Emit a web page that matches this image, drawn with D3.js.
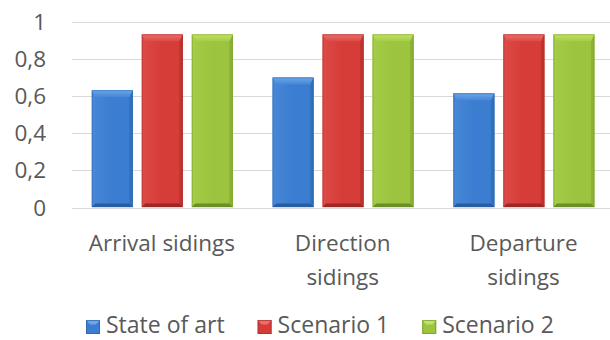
<!DOCTYPE html>
<html>
<head>
<meta charset="utf-8">
<script src="https://cdn.jsdelivr.net/npm/d3@7"></script>
<style>
  html, body { margin: 0; padding: 0; background: #ffffff; }
  svg { display: block; }
  text { font-family: "Open Sans", "DejaVu Sans", sans-serif; fill: #595959; }
</style>
</head>
<body>
<svg id="chart" width="610" height="340"></svg>
<script>
// Category labels (one array entry per line of the wrapped label)
const categories = ["Arrival sidings", "Direction sidings", "Departure sidings"];
const categoryLines = [["Arrival sidings"], ["Direction", "sidings"], ["Departure", "sidings"]];
const seriesNames = ["State of art", "Scenario 1", "Scenario 2"];
const stateOfArt = [0.632, 0.70, 0.615];
const scenario1 = [0.932, 0.932, 0.932];
const scenario2 = [0.932, 0.932, 0.932];
const yTicks = [0, 0.2, 0.4, 0.6, 0.8, 1];

const seriesValues = [stateOfArt, scenario1, scenario2];
const palette = [
  { base: "#3b7dd0", light: "#6aa6e8", mid: "#4787d6", edge: "#3370bd", dark: "#285e9f" },
  { base: "#d63c38", light: "#ec6e6a", mid: "#dc4a46", edge: "#c2332f", dark: "#9c2926" },
  { base: "#9cc43e", light: "#c0e267", mid: "#a5cc47", edge: "#8cb234", dark: "#6d8e28" }
];

const svg = d3.select("#chart");
const W = 610;
const plot = { left: 72, right: 614.4, top: 21.7, bottom: 207.5 };

const x = d3.scaleBand().domain(categories).range([plot.left, plot.right]).paddingInner(0).paddingOuter(0);
const xs = d3.scaleBand().domain(seriesNames).range([19.8, 160.8]).paddingInner(0.18).paddingOuter(0);
const y = d3.scaleLinear().domain([0, 1]).range([plot.bottom, plot.top]);

const defs = svg.append("defs");
palette.forEach((c, i) => {
  const g = defs.append("linearGradient").attr("id", "body" + i)
    .attr("x1", "0").attr("x2", "1").attr("y1", "0").attr("y2", "0");
  g.append("stop").attr("offset", "0").attr("stop-color", c.mid);
  g.append("stop").attr("offset", "0.5").attr("stop-color", c.base);
  g.append("stop").attr("offset", "1").attr("stop-color", c.base);
  const t = defs.append("linearGradient").attr("id", "top" + i)
    .attr("x1", "0").attr("x2", "0").attr("y1", "0").attr("y2", "1");
  t.append("stop").attr("offset", "0").attr("stop-color", c.light);
  t.append("stop").attr("offset", "1").attr("stop-color", c.mid);
});

// Gridlines
svg.append("g").selectAll("line").data(yTicks).join("line")
  .attr("x1", plot.left).attr("x2", W)
  .attr("y1", d => Math.round(y(d)) + 0.5).attr("y2", d => Math.round(y(d)) + 0.5)
  .attr("stroke", "#d9d9d9").attr("stroke-width", 1);

// Y axis labels
const fmt = d => d3.format("~g")(d).replace(".", ",");
svg.append("g").selectAll("text").data(yTicks).join("text")
  .attr("x", 46).attr("y", d => y(d)).attr("dy", "0.36em")
  .attr("text-anchor", "end").attr("font-size", 22.5)
  .text(fmt);

// Bars with bevelled edges
const bars = [];
categories.forEach((cat, ci) => {
  seriesNames.forEach((s, si) => {
    bars.push({ cat, s, si, v: seriesValues[si][ci] });
  });
});

const barG = svg.append("g").selectAll("g").data(bars).join("g");
barG.each(function (d) {
  const g = d3.select(this);
  const c = palette[d.si];
  const x0 = x(d.cat) + xs(d.s), x1 = x0 + xs.bandwidth();
  const y0 = y(d.v), y1 = y(0) - 0.5;
  const b = 3.5, t = 7;
  g.append("rect").attr("x", x0).attr("y", y0).attr("width", x1 - x0).attr("height", y1 - y0)
    .attr("fill", `url(#body${d.si})`);
  const poly = (pts, fill) => g.append("polygon").attr("points", pts.map(p => p.join(",")).join(" ")).attr("fill", fill);
  poly([[x0, y0], [x0 + b, y0 + t], [x0 + b, y1 - b], [x0, y1]], c.mid);
  poly([[x1, y0], [x1, y1], [x1 - b, y1 - b], [x1 - b, y0 + t]], c.edge);
  poly([[x0, y1], [x0 + b, y1 - b], [x1 - b, y1 - b], [x1, y1]], c.dark);
  poly([[x0, y0], [x1, y0], [x1 - b, y0 + t], [x0 + b, y0 + t]], `url(#top${d.si})`);
  g.append("rect").attr("x", x0 + 0.5).attr("y", y0 + 0.5).attr("width", x1 - x0 - 1).attr("height", y1 - y0 - 0.5)
    .attr("fill", "none").attr("stroke", c.dark).attr("stroke-opacity", 0.4).attr("stroke-width", 1);
});

// Category labels
const xl = svg.append("g").selectAll("text").data(categories).join("text")
  .attr("text-anchor", "middle").attr("font-size", 22.5)
  .attr("x", d => x(d) + x.bandwidth() / 2 - 0.5).attr("y", 251);
xl.each(function (d, i) {
  const el = d3.select(this);
  categoryLines[i].forEach((line, li) => {
    el.append("tspan").attr("x", x(d) + x.bandwidth() / 2 - 0.5)
      .attr("dy", li === 0 ? 0 : 34).text(line);
  });
});

// Legend
const legend = svg.append("g");
let lx = 86;
seriesNames.forEach((s, i) => {
  const c = palette[i];
  const item = legend.append("g");
  item.append("rect").attr("x", lx).attr("y", 320).attr("width", 14).attr("height", 14).attr("fill", c.base);
  item.append("polygon")
    .attr("points", `${lx},320 ${lx + 14},320 ${lx + 10},324.5 ${lx + 4},324.5`)
    .attr("fill", c.light);
  item.append("rect").attr("x", lx + 0.5).attr("y", 320.5).attr("width", 13).attr("height", 13)
    .attr("fill", "none").attr("stroke", c.dark).attr("stroke-opacity", 0.6);
  const tx = item.append("text").attr("x", lx + 20).attr("y", 333).attr("font-size", 23).text(s);
  lx += 20 + tx.node().getComputedTextLength() + 33;
});
</script>
</body>
</html>
